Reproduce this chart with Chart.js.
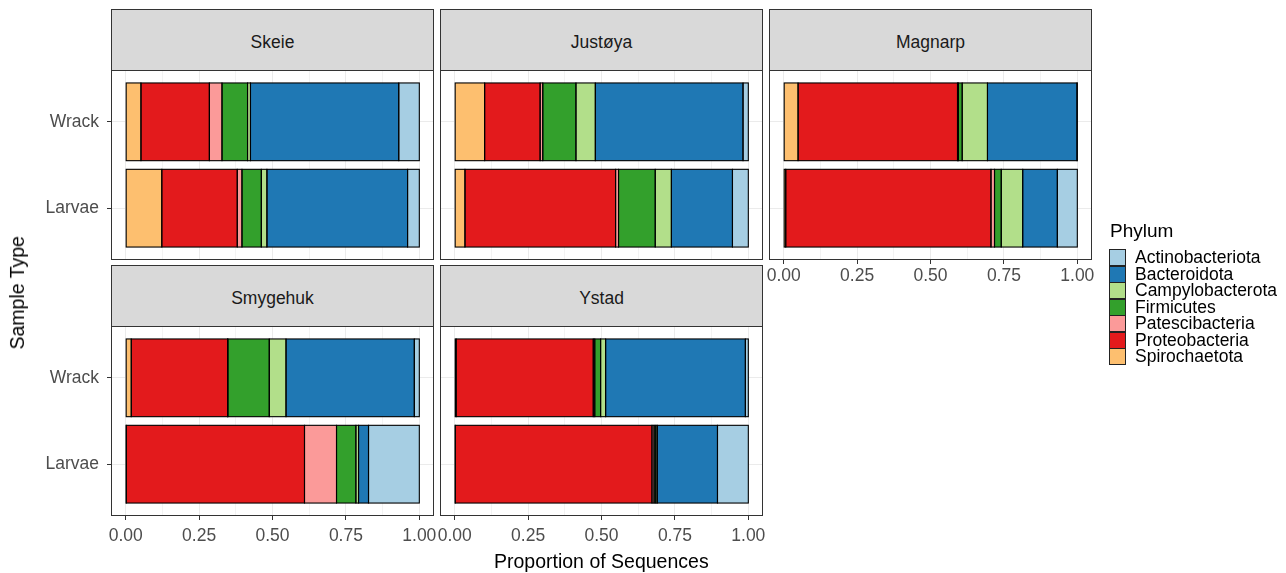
<!DOCTYPE html>
<html><head><meta charset="utf-8">
<script src="https://cdn.jsdelivr.net/npm/chart.js@4.4.1/dist/chart.umd.min.js"></script>
<style>
html,body{margin:0;padding:0;background:#fff;}
body{width:1286px;height:573px;position:relative;overflow:hidden;font-family:"Liberation Sans",Arial,Helvetica,sans-serif;}
canvas{position:absolute;}
.strip{position:absolute;box-sizing:border-box;background:#D9D9D9;border:1px solid #333;display:flex;align-items:center;justify-content:center;font-size:17.5px;color:#1A1A1A;padding-top:4px;}
.t{position:absolute;white-space:nowrap;color:#000;}
.key{position:absolute;box-sizing:border-box;border:1px solid #222;width:17px;height:17px;}
.lab{position:absolute;font-size:17.5px;line-height:16.5px;height:16.5px;white-space:nowrap;color:#000;}
</style></head><body>
<script>
// ---- data ----
const sites = ['Skeie', 'Justøya', 'Magnarp', 'Smygehuk', 'Ystad'];
const sampleTypes = ['Larvae', 'Wrack'];           // bottom to top
const phyla = ['Actinobacteriota', 'Bacteroidota', 'Campylobacterota', 'Firmicutes', 'Patescibacteria', 'Proteobacteria', 'Spirochaetota'];
const phylumColors = ['#A6CEE3', '#1F78B4', '#B2DF8A', '#33A02C', '#FB9A99', '#E31A1C', '#FDBF6F'];
const xTickValues = [0, 0.125, 0.25, 0.375, 0.5, 0.625, 0.75, 0.875, 1];

// proportions per phylum, in the order of `phyla`
const skeieWrack     = [0.070, 0.505, 0.010, 0.087, 0.043, 0.233, 0.052];
const skeieLarvae    = [0.040, 0.479, 0.019, 0.066, 0.016, 0.257, 0.123];
const justoyaWrack   = [0.018, 0.503, 0.066, 0.113, 0.009, 0.189, 0.102];
const justoyaLarvae  = [0.054, 0.208, 0.055, 0.125, 0.010, 0.513, 0.035];
const magnarpWrack   = [0.001, 0.305, 0.086, 0.013, 0.003, 0.543, 0.049];
const magnarpLarvae  = [0.068, 0.118, 0.073, 0.023, 0.012, 0.699, 0.007];
const smygehukWrack  = [0.017, 0.437, 0.057, 0.141, 0.001, 0.328, 0.019];
const smygehukLarvae = [0.173, 0.034, 0.009, 0.066, 0.109, 0.607, 0.002];
const ystadWrack     = [0.010, 0.476, 0.017, 0.020, 0.005, 0.467, 0.005];
const ystadLarvae    = [0.105, 0.205, 0.005, 0.006, 0.007, 0.670, 0.002];

// ---- layout ----
Chart.defaults.font.family = '"Liberation Sans", Arial, Helvetica, sans-serif';
const colLeft = [111, 440, 769], colRight = [434, 763, 1092];
const rowTop = [70, 326], rowBottom = [260, 516];
const rowTickPad = [2, 6];
const stripH = 61;

const panels = [
  {site: sites[0], wrack: skeieWrack,    larvae: skeieLarvae,    col: 0, row: 0, yLab: true,  xLab: false},
  {site: sites[1], wrack: justoyaWrack,  larvae: justoyaLarvae,  col: 1, row: 0, yLab: false, xLab: false},
  {site: sites[2], wrack: magnarpWrack,  larvae: magnarpLarvae,  col: 2, row: 0, yLab: false, xLab: true},
  {site: sites[3], wrack: smygehukWrack, larvae: smygehukLarvae, col: 0, row: 1, yLab: true,  xLab: true},
  {site: sites[4], wrack: ystadWrack,    larvae: ystadLarvae,    col: 1, row: 1, yLab: false, xLab: true}
];

const isMajor = v => Math.abs(v * 4 - Math.round(v * 4)) < 1e-9;

// outlines of bar segments (centred on the edges) and panel border
const outlines = {
  id: 'outlines',
  afterDatasetsDraw(chart) {
    const a = chart.chartArea, c = chart.ctx;
    c.save();
    c.beginPath();
    c.rect(a.left, a.top, a.right - a.left, a.bottom - a.top);
    c.clip();
    c.strokeStyle = '#000000';
    c.lineWidth = 1.1;
    chart.getSortedVisibleDatasetMetas().forEach(meta => {
      meta.data.forEach(el => {
        const {x, y, base, height} = el.getProps(['x', 'y', 'base', 'height'], true);
        c.strokeRect(Math.min(x, base), y - height / 2, Math.abs(x - base), height);
      });
    });
    c.restore();
  },
  afterDraw(chart) {
    const a = chart.chartArea, c = chart.ctx;
    const l = Math.round(a.left), t = Math.round(a.top), r = Math.round(a.right), b = Math.round(a.bottom);
    c.save();
    c.strokeStyle = '#333333';
    c.lineWidth = 1;
    c.strokeRect(l + 0.5, t + 0.5, r - l - 1, b - t - 1);
    c.restore();
  }
};

function makePanel(p) {
  const L = colLeft[p.col], R = colRight[p.col], T = rowTop[p.row], B = rowBottom[p.row];
  const M = 24;
  const xAxisH = p.xLab ? 40 : 0;
  const cLeft = p.yLab ? 0 : L - M;
  const cTop = T - M;
  const w = R + M - cLeft;
  const h = (B + (p.xLab ? xAxisH : M)) - cTop;

  // strip
  const s = document.createElement('div');
  s.className = 'strip';
  s.style.left = L + 'px'; s.style.top = (T - stripH) + 'px';
  s.style.width = (R - L) + 'px'; s.style.height = (stripH + 1) + 'px';
  s.textContent = p.site;
  document.body.appendChild(s);

  const cv = document.createElement('canvas');
  cv.width = w; cv.height = h;
  cv.style.left = cLeft + 'px'; cv.style.top = cTop + 'px';
  cv.style.width = w + 'px'; cv.style.height = h + 'px';
  document.body.appendChild(cv);

  const yLarvae = sampleTypes.indexOf('Larvae') + 1;
  const yWrack = sampleTypes.indexOf('Wrack') + 1;
  const datasets = phyla.map((name, i) => ({
    label: name,
    data: [{x: p.larvae[i], y: yLarvae}, {x: p.wrack[i], y: yWrack}],
    backgroundColor: phylumColors[i],
    borderWidth: 0,
    inflateAmount: 0,
    barPercentage: 0.9,
    categoryPercentage: 1
  })).reverse();

  new Chart(cv, {
    type: 'bar',
    data: {datasets},
    plugins: [outlines],
    options: {
      indexAxis: 'y',
      responsive: false,
      animation: false,
      devicePixelRatio: 1,
      events: [],
      layout: {padding: {left: p.yLab ? 0 : M, right: M, top: M, bottom: p.xLab ? 0 : M}},
      plugins: {legend: {display: false}, tooltip: {enabled: false}},
      scales: {
        x: {
          type: 'linear', min: -0.05, max: 1.05, stacked: true, offset: false,
          afterBuildTicks: sc => { sc.ticks = xTickValues.map(v => ({value: v})); },
          afterFit: sc => { sc.height = xAxisH; },
          grid: {
            offset: false,
            color: '#EBEBEB',
            lineWidth: ctx => (ctx.tick && isMajor(ctx.tick.value)) ? 1 : 0.6,
            drawTicks: p.xLab, tickLength: 4, tickWidth: 1,
            tickColor: ctx => (ctx.tick && isMajor(ctx.tick.value)) ? '#333333' : 'rgba(0,0,0,0)'
          },
          border: {display: false},
          ticks: {
            display: p.xLab, autoSkip: false, maxRotation: 0, minRotation: 0, padding: rowTickPad[p.row],
            color: '#4D4D4D', font: {size: 17.5},
            callback: v => isMajor(v) ? v.toFixed(2) : ''
          }
        },
        y: {
          type: 'linear', min: 0.4, max: 2.6, stacked: true, offset: false,
          afterBuildTicks: sc => { sc.ticks = sampleTypes.map((_, i) => ({value: i + 1})); },
          afterFit: sc => { sc.width = p.yLab ? L : 0; },
          grid: {offset: false, color: '#EBEBEB', lineWidth: 1, drawTicks: p.yLab, tickLength: 4, tickWidth: 1, tickColor: '#333333'},
          border: {display: false},
          ticks: {
            display: p.yLab, padding: 8, color: '#4D4D4D', font: {size: 17.5},
            callback: v => sampleTypes[Math.round(v) - 1]
          }
        }
      }
    }
  });
}

panels.forEach(makePanel);

// axis titles
const yt = document.createElement('div');
yt.className = 't';
yt.style.fontSize = '19.5px'; yt.style.lineHeight = '19.5px';
yt.textContent = 'Sample Type';
document.body.appendChild(yt);
const ytw = yt.offsetWidth;
yt.style.left = (17.5 - ytw / 2) + 'px';
yt.style.top = (293 - 9.75) + 'px';
yt.style.transform = 'rotate(-90deg)';

const xt = document.createElement('div');
xt.className = 't';
xt.style.fontSize = '19.5px'; xt.style.lineHeight = '19.5px';
xt.textContent = 'Proportion of Sequences';
document.body.appendChild(xt);
xt.style.left = (601.5 - xt.offsetWidth / 2) + 'px';
xt.style.top = '552px';

// legend
const lt = document.createElement('div');
lt.className = 't';
lt.style.fontSize = '19px'; lt.style.lineHeight = '19px';
lt.style.left = '1110px'; lt.style.top = '221px';
lt.textContent = 'Phylum';
document.body.appendChild(lt);
phyla.forEach((name, i) => {
  const top = 249 + i * 16.5;
  const k = document.createElement('div');
  k.className = 'key';
  k.style.left = '1109px'; k.style.top = top + 'px';
  k.style.background = phylumColors[i];
  document.body.appendChild(k);
  const lb = document.createElement('div');
  lb.className = 'lab';
  lb.style.left = '1135px'; lb.style.top = (top + 0.25) + 'px';
  lb.textContent = name;
  document.body.appendChild(lb);
});
</script>
</body></html>
